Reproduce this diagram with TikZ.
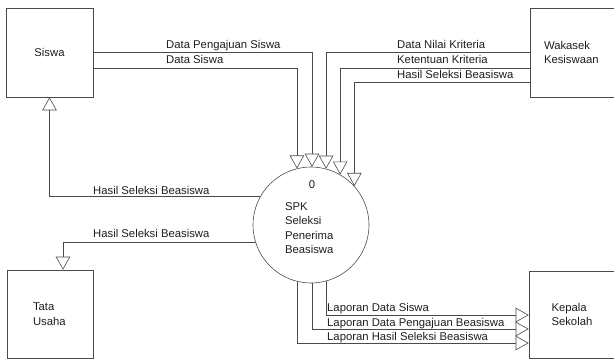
\documentclass[tikz,border=0pt]{standalone}
\usepackage{fontspec}
\setmainfont{Liberation Sans}
\usetikzlibrary{arrows.meta}
\definecolor{linec}{HTML}{4A4A4A}
\definecolor{txtc}{HTML}{1E1E1E}
\newcommand\dfdfont{\fontsize{11.3}{14.5}\selectfont}
\begin{document}
\begin{tikzpicture}[x=1pt,y=-1pt,
  ent/.style={draw=linec, line width=0.6pt, inner sep=0pt, font=\dfdfont, text=txtc, align=left},
  proc/.style={draw=linec, line width=0.6pt, circle, minimum size=116pt, inner sep=0pt},
  flow/.style={draw=linec, line width=0.6pt, -{Triangle[open,length=13pt,width=14.5pt]}},
  lbl/.style={inner sep=0pt, anchor=base west, font=\dfdfont, text=txtc}]
\useasboundingbox (0,0) rectangle (614,361);

% external entities
\node[ent, minimum width=87pt, minimum height=89pt] (siswa) at (49.5,52.5) {Siswa};
\node[ent, minimum width=88pt, minimum height=89pt, text width=60pt] (wak) at (574,52.5) {Wakasek\\Kesiswaan};
\node[ent, minimum width=86pt, minimum height=88pt, text width=34pt] (tata) at (50,314) {Tata\\Usaha};
\node[ent, minimum width=89pt, minimum height=87pt, text width=44pt] (kep) at (573.5,314.5) {Kepala\\Sekolah};

% process
\node[proc] (circ) at (311,225) {};
\node[inner sep=0pt, font=\dfdfont, text=txtc, text width=52pt, align=left] (ptext) at (311,217)
  {\makebox[52pt][c]{\hspace{2pt}0}\\[7.5pt]SPK\\Seleksi\\Penerima\\Beasiswa};

% flows from Siswa
\draw[flow] (siswa.east |- 0,52) -| (circ.89);
\draw[flow] (siswa.east |- 0,68) -| (circ.104);
% flows from Wakasek
\draw[flow] (wak.west |- 0,52) -| (circ.75);
\draw[flow] (wak.west |- 0,68) -| (circ.60);
\draw[flow] (wak.west |- 0,82) -| (circ.42);
% flows out
\draw[flow] (circ.151) -| (siswa.south);
\draw[flow] (circ.197) -| ([xshift=13pt]tata.north);
\draw[flow] (circ.285) |- (kep.west |- 0,315);
\draw[flow] (circ.271) |- (kep.west |- 0,329);
\draw[flow] (circ.256) |- (kep.west |- 0,343);

% labels
\node[lbl] (l1) at (166,49) {Data Pengajuan Siswa};
\node[lbl] (l2) at (166,64) {Data Siswa};
\node[lbl] (l3) at (397,49) {Data Nilai Kriteria};
\node[lbl] (l4) at (397,64) {Ketentuan Kriteria};
\node[lbl] (l5) at (397,79) {Hasil Seleksi Beasiswa};
\node[lbl] (l6) at (93,194) {Hasil Seleksi Beasiswa};
\node[lbl] (l7) at (93,237) {Hasil Seleksi Beasiswa};
\node[lbl] (l8) at (327,311) {Laporan Data Siswa};
\node[lbl] (l9) at (327,326) {Laporan Data Pengajuan Beasiswa};
\node[lbl] (l10) at (327,340) {Laporan Hasil Seleksi Beasiswa};
\end{tikzpicture}
\end{document}
